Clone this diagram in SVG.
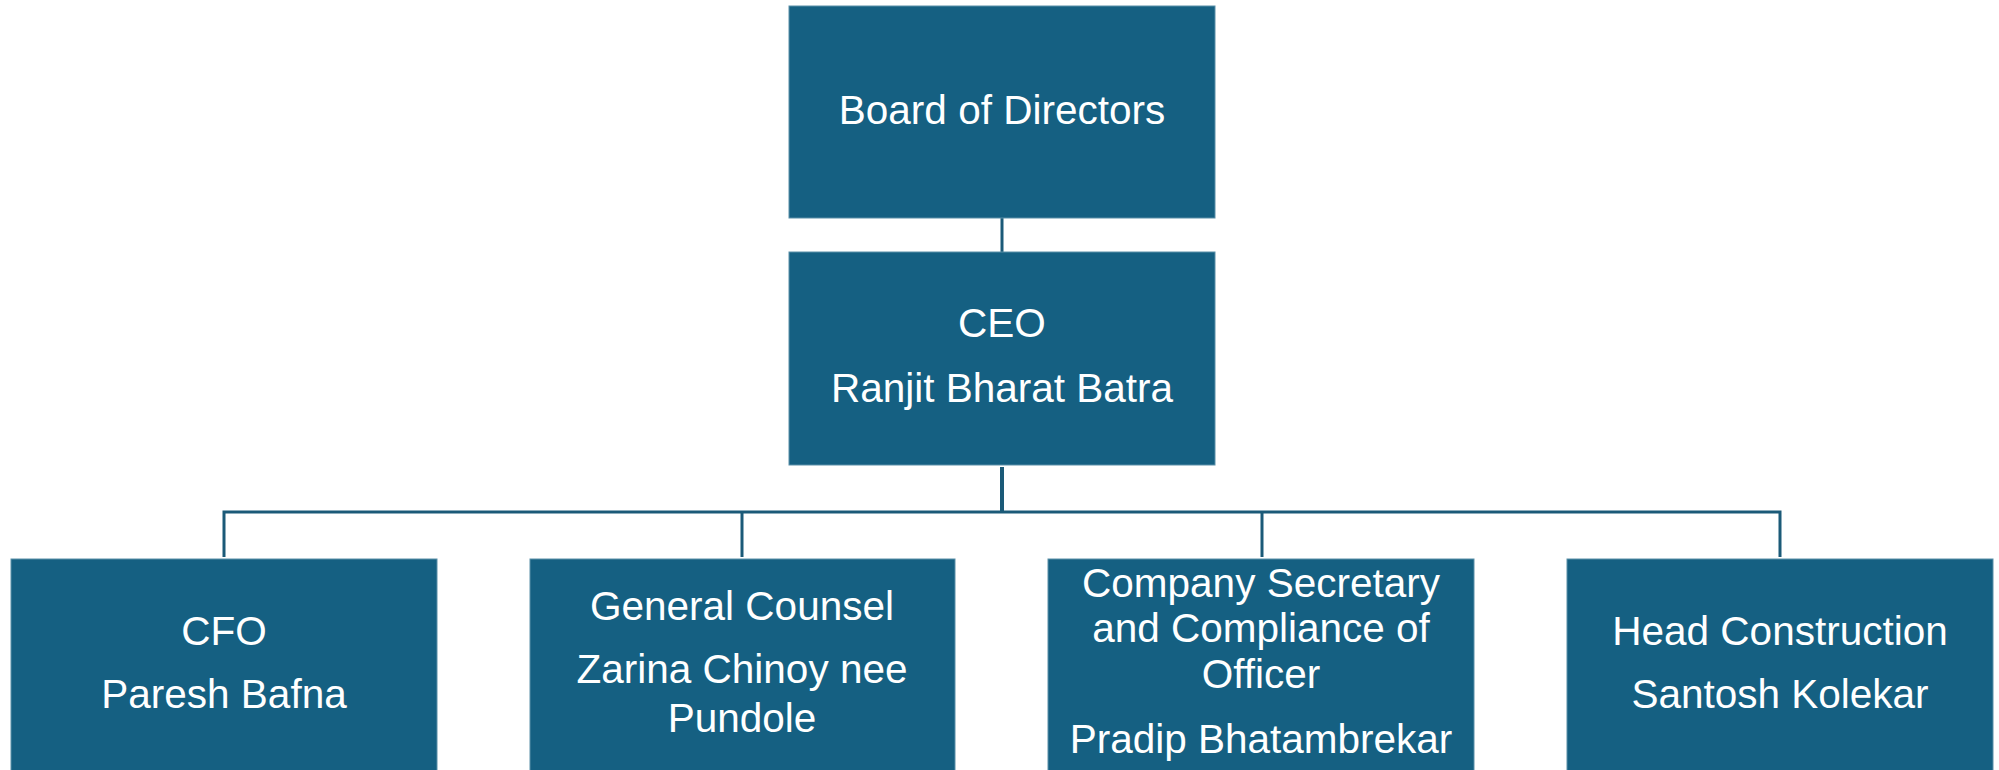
<svg xmlns="http://www.w3.org/2000/svg" width="1999" height="770" viewBox="0 0 1999 770">
<style>
.box{fill:#156082;stroke:#5a8fa8;stroke-width:1}
.t{font-family:"Liberation Sans",Arial,sans-serif;font-size:40.5px;fill:#ffffff;text-anchor:middle}
.ln{stroke:#1b5a78;stroke-width:3;fill:none}
</style>
<rect width="1999" height="770" fill="#ffffff"/>
<g id="connectors">
<line class="ln" x1="1002" y1="218" x2="1002" y2="252"/>
<line class="ln" x1="1002" y1="467" x2="1002" y2="512" style="stroke-width:4"/>
<polyline class="ln" points="224,557 224,512 1780,512 1780,557"/>
<line class="ln" x1="742" y1="512" x2="742" y2="557"/>
<line class="ln" x1="1262" y1="512" x2="1262" y2="557"/>
</g>
<g id="board">
<rect class="box" x="789" y="6" width="426" height="212"/>
<text class="t" x="1002" y="124">Board of Directors</text>
</g>
<g id="ceo">
<rect class="box" x="789" y="252" width="426" height="213"/>
<text class="t" x="1002" y="337">CEO</text>
<text class="t" x="1002" y="402">Ranjit Bharat Batra</text>
</g>
<g id="cfo">
<rect class="box" x="11" y="559" width="426" height="220"/>
<text class="t" x="224" y="645">CFO</text>
<text class="t" x="224" y="708">Paresh Bafna</text>
</g>
<g id="counsel">
<rect class="box" x="530" y="559" width="425" height="220"/>
<text class="t" x="742" y="620">General Counsel</text>
<text class="t" x="742" y="683">Zarina Chinoy nee</text>
<text class="t" x="742" y="732">Pundole</text>
</g>
<g id="secretary">
<rect class="box" x="1048" y="559" width="426" height="220"/>
<text class="t" x="1261" y="597">Company Secretary</text>
<text class="t" x="1261" y="642">and Compliance of</text>
<text class="t" x="1261" y="688">Officer</text>
<text class="t" x="1261" y="753">Pradip Bhatambrekar</text>
</g>
<g id="construction">
<rect class="box" x="1567" y="559" width="426" height="220"/>
<text class="t" x="1780" y="645">Head Construction</text>
<text class="t" x="1780" y="708">Santosh Kolekar</text>
</g>
</svg>
